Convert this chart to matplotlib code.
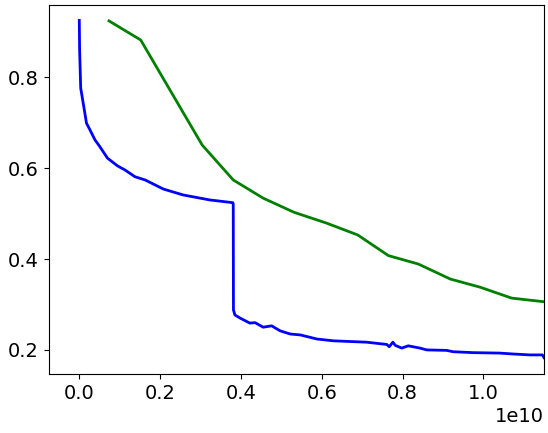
import matplotlib
matplotlib.use("Agg")
import matplotlib.pyplot as plt
import numpy as np

# Blue series (x in units of 1e10)
blue_x = [0.0, 0.0008, 0.0035, 0.0084, 0.0178, 0.0265, 0.0389, 0.0495, 0.0698, 0.0945,
          0.113, 0.138, 0.163, 0.208, 0.257, 0.323, 0.380, 0.381, 0.3815, 0.385, 0.398,
          0.422, 0.435, 0.455, 0.476, 0.497, 0.522, 0.547, 0.588, 0.629, 0.711, 0.761,
          0.767, 0.776, 0.782, 0.798, 0.814, 0.843, 0.860, 0.909, 0.925, 0.975, 1.040,
          1.074, 1.115, 1.146, 1.150]
blue_y = [0.925, 0.860, 0.776, 0.750, 0.699, 0.684, 0.662, 0.649, 0.622, 0.605,
          0.596, 0.581, 0.574, 0.554, 0.541, 0.530, 0.524, 0.521, 0.288, 0.277, 0.270,
          0.259, 0.260, 0.250, 0.253, 0.242, 0.235, 0.233, 0.224, 0.220, 0.217, 0.212,
          0.207, 0.217, 0.210, 0.204, 0.209, 0.204, 0.200, 0.199, 0.196, 0.194, 0.193,
          0.191, 0.189, 0.189, 0.183]

# Green series (x in units of 1e10)
green_x = [0.0735, 0.152, 0.304, 0.381, 0.455, 0.531, 0.612, 0.689, 0.765, 0.839,
           0.918, 0.992, 1.070, 1.150]
green_y = [0.924, 0.882, 0.651, 0.574, 0.534, 0.503, 0.479, 0.453, 0.4075, 0.389,
           0.356, 0.338, 0.314, 0.306]

scale = 1e10

fig = plt.figure(figsize=(5.48, 4.33), dpi=100)
ax = fig.add_axes([48.7 / 548, 1 - 374 / 433, (544 - 48.7) / 548, (374 - 5) / 433])

ax.plot(np.array(blue_x) * scale, blue_y, color="blue", linewidth=2)
ax.plot(np.array(green_x) * scale, green_y, color="green", linewidth=2)

ax.set_xlim(-0.0757 * scale, 1.150 * scale)
ax.set_ylim(0.147, 0.959)
ax.set_yticks([0.2, 0.4, 0.6, 0.8])
ax.set_xticks(np.array([0.0, 0.2, 0.4, 0.6, 0.8, 1.0]) * scale)
ax.tick_params(labelsize=14)
ax.xaxis.get_offset_text().set_fontsize(14)

fig.savefig("out.png", dpi=100)
